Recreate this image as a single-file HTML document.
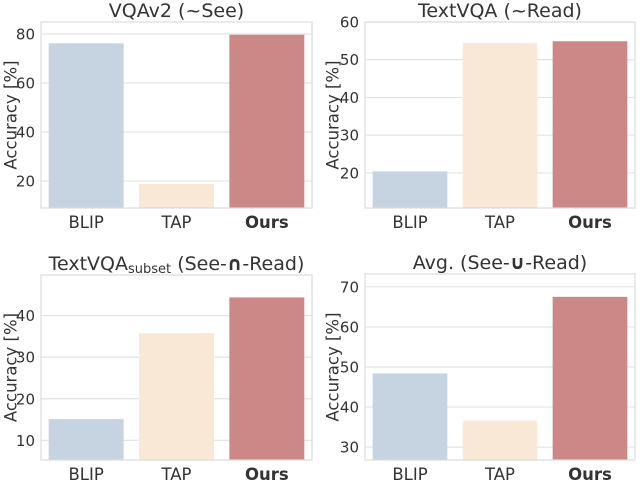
<!DOCTYPE html>
<html><head><meta charset="utf-8"><style>
body{margin:0;background:#fff;}
svg text{font-family:"DejaVu Sans","Liberation Sans",sans-serif;fill:#333;}
</style></head><body>
<svg id="chart" width="640" height="483" viewBox="0 0 640 483" xmlns="http://www.w3.org/2000/svg"></svg>
<script>
const categories = ["BLIP","TAP","Ours"];
const vqaValues = [76.2, 18.8, 79.7];
const textvqaValues = [20.4, 54.4, 54.9];
const subsetValues = [15.1, 35.8, 44.4];
const avgValues = [48.4, 36.6, 67.5];
const vqaTicks = [20,40,60,80];
const textvqaTicks = [20,30,40,50,60];
const subsetTicks = [10,20,30,40];
const avgTicks = [30,40,50,60,70];
const colors = ["#c6d3e0","#f8e8d5","#cc8787"];

const svg = document.getElementById('chart');
const NS = "http://www.w3.org/2000/svg";
function mk(tag, attrs, parent){const e=document.createElementNS(NS,tag);for(const k in attrs)e.setAttribute(k,attrs[k]);(parent||svg).appendChild(e);return e;}

const panels = [
 {name:"vqav2", title:"VQAv2 (~See)", vals:vqaValues, ticks:vqaTicks, x0:41,x1:312,y0:22,y1:208,vmin:9,vmax:84.9,lx:11},
 {name:"textvqa", title:"TextVQA (~Read)", vals:textvqaValues, ticks:textvqaTicks, x0:365,x1:635,y0:22,y1:208,vmin:10.7,vmax:60,lx:333},
 {name:"textvqa-subset", title:"subset", vals:subsetValues, ticks:subsetTicks, x0:41,x1:312,y0:275,y1:460,vmin:5.26,vmax:49.8,lx:11},
 {name:"avg", title:"Avg. (See-u-Read)", vals:avgValues, ticks:avgTicks, x0:365,x1:635,y0:274,y1:460,vmin:26.8,vmax:73.2,lx:333}
];

panels.forEach(p=>{
  const g = mk('g',{});
  
  
  const y = v => p.y1 - (v-p.vmin)/(p.vmax-p.vmin)*(p.y1-p.y0);
  const cw = (p.x1-p.x0)/categories.length;
  const bw = cw*0.83;
  p.ticks.forEach(t=>{
    const l = mk('line',{x1:p.x0,x2:p.x1,y1:y(t),y2:y(t),stroke:"#e3e3e3","stroke-width":1.2},g);
    
    
    const tx = mk('text',{x:p.x0-6,y:y(t)+5.5,"text-anchor":"end","font-size":"15"},g);
    
    
    tx.textContent = t;
  });
  p.vals.forEach((v,i)=>{
    const r = mk('rect',{x:p.x0+cw*i+(cw-bw)/2,y:y(v),width:bw,height:p.y1-y(v),fill:colors[i]},g);
    
    
    const tx = mk('text',{x:p.x0+cw*i+cw/2,y:p.y1+20,"text-anchor":"middle","font-size":"16.5","font-weight":i==2?"bold":"normal"},g);
    
    
    tx.textContent = categories[i];
  });
  const fr = mk('rect',{x:p.x0,y:p.y0,width:p.x1-p.x0,height:p.y1-p.y0,fill:"none",stroke:"#dcdcdc","stroke-width":1.2},g);
  
  
  const cy=(p.y0+p.y1)/2;
  const yl = mk('text',{x:p.lx,y:cy,transform:`rotate(-90 ${p.lx} ${cy})`,"text-anchor":"middle","dominant-baseline":"central","font-size":"16.5"},g);
  
  
  yl.textContent = "Accuracy [%]";
  const tt = mk('text',{x:(p.x0+p.x1)/2,y:p.y0-5,"text-anchor":"middle","font-size":"19"},g);
  
  
  if(p.title==="subset"){
    tt.innerHTML = 'TextVQA<tspan font-size="13" dy="3">subset</tspan><tspan dy="-3"> (See-</tspan><tspan font-weight="bold">∩</tspan><tspan>-Read)</tspan>';
  } else if(p.name==="avg"){
    tt.innerHTML = 'Avg. (See-<tspan font-weight="bold">∪</tspan>-Read)';
  } else {
    tt.textContent = p.title;
  }
});
</script>
</body></html>
